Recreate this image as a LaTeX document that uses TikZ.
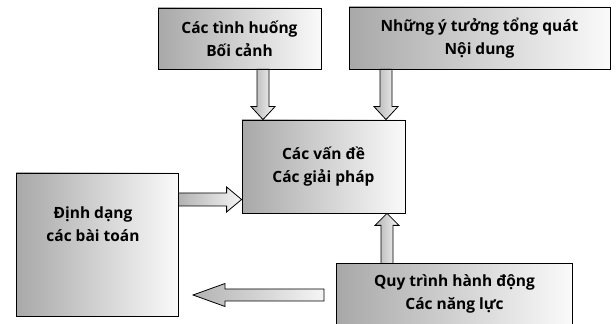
\documentclass[tikz,border=0pt]{standalone}
\usepackage{fontspec}
\setmainfont{Open Sans}
\usetikzlibrary{calc}
\tikzset{
  x=1pt,y=1pt,
  boxsty/.style={draw=black, line width=0.8pt, left color=black!34, right color=black!2,
    inner sep=0pt, minimum width=#1},
  txt/.style={align=center, font=\fontsize{15.5}{23}\selectfont\bfseries, text=black},
  arrsty/.style={draw=black, line width=0.8pt, left color=black!30, right color=black!4, line join=miter},
}
\begin{document}
\begin{tikzpicture}
\useasboundingbox (0,0) rectangle (616,324);
\clip (0,0) rectangle (616,324);
% boxes
\node[boxsty=163, minimum height=61, txt] (b1) at (239.5,285.5) {Các tình huống\\Bối cảnh};
\node[boxsty=261, minimum height=62, txt] (b2) at (479.5,286) {Những ý tưởng tổng quát\\Nội dung};
\node[boxsty=163, minimum height=93, txt] (c) at (323.5,157.5) {Các vấn đề\\Các giải pháp};
\node[boxsty=162, minimum height=143] (l) at (97,79.5) {};
\node[txt] (lt) at ($(l.center)+(-4,20)$) {Định dạng\\các bài toán};
\node[boxsty=235, minimum height=60, draw=none] (r) at (454.5,30) {};
\draw[line width=0.8pt] (r.south west) -- (r.north west) -- (r.north east) -- (r.south east);
\node[txt] (rt) at (r.center) {Quy trình hành động\\Các năng lực};
% arrow 1: b1 -> c
\coordinate (a1s) at (263,0 |- b1.south);
\coordinate (a1e) at (263,0 |- c.north);
\path[arrsty] ($(a1s)+(-6,0)$) -- ($(a1e)+(-6,13)$) -- ($(a1e)+(-12,13)$) -- (a1e)
  -- ($(a1e)+(12,13)$) -- ($(a1e)+(6,13)$) -- ($(a1s)+(6,0)$) -- cycle;
% arrow 2: b2 -> c
\coordinate (a2s) at (386,0 |- b2.south);
\coordinate (a2e) at (386,0 |- c.north);
\path[arrsty] ($(a2s)+(-6,0)$) -- ($(a2e)+(-6,13)$) -- ($(a2e)+(-12,13)$) -- (a2e)
  -- ($(a2e)+(12,13)$) -- ($(a2e)+(6,13)$) -- ($(a2s)+(6,0)$) -- cycle;
% arrow 3: r -> c
\coordinate (a3s) at (387,0 |- r.north);
\coordinate (a3e) at (387,0 |- c.south);
\path[arrsty] ($(a3s)+(-6,0)$) -- ($(a3e)+(-6,-12)$) -- ($(a3e)+(-12,-12)$) -- (a3e)
  -- ($(a3e)+(12,-12)$) -- ($(a3e)+(6,-12)$) -- ($(a3s)+(6,0)$) -- cycle;
% arrow 4: l -> c
\coordinate (a4s) at (l.east |- 0,124.5);
\coordinate (a4e) at (c.west |- 0,124.5);
\path[arrsty] ($(a4s)+(0,6.5)$) -- ($(a4e)+(-15,6.5)$) -- ($(a4e)+(-15,12.5)$) -- (a4e)
  -- ($(a4e)+(-15,-12.5)$) -- ($(a4e)+(-15,-6.5)$) -- ($(a4s)+(0,-6.5)$) -- cycle;
% arrow 5: free arrow pointing left
\coordinate (a5s) at (324,29);
\coordinate (a5e) at (193,29);
\path[arrsty] ($(a5s)+(0,6)$) -- ($(a5e)+(32,6)$) -- ($(a5e)+(32,11.5)$) -- (a5e)
  -- ($(a5e)+(32,-11.5)$) -- ($(a5e)+(32,-6)$) -- ($(a5s)+(0,-6)$) -- cycle;
\end{tikzpicture}
\end{document}
